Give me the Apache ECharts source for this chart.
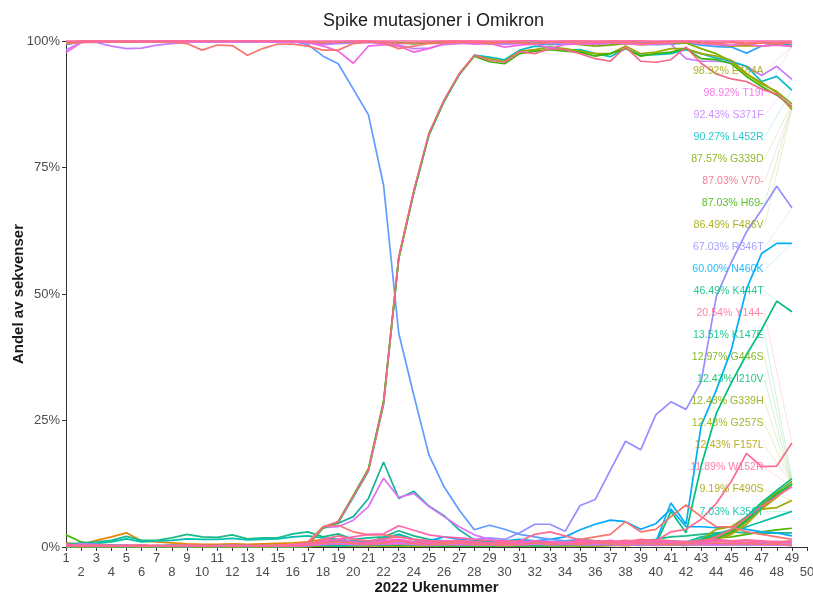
<!DOCTYPE html>
<html><head><meta charset="utf-8">
<script src="https://cdn.jsdelivr.net/npm/echarts@6/dist/echarts.min.js"></script>
<style>html,body{margin:0;padding:0;background:#fff}#c{width:813px;height:595px}</style>
</head><body><div id="c"></div>
<script>
// ---------- DATA ----------
const weeks = [1,2,3,4,5,6,7,8,9,10, 11,12,13,14,15,16,17,18,19,20, 21,22,23,24,25,26,27,28,29,30, 31,32,33,34,35,36,37,38,39,40, 41,42,43,44,45,46,47,48,49];
const yTicks = [0,25,50,75,100];

// near-100% lines
const topPink = [100,100,100,100,100,100,100,100,100,100, 100,100,100,100,100,100,100,100,100,100, 100,100,100,100,100,100,100,100,100,100, 100,100,100,100,100,100,100,100,100,100, 100,100,100,100,100,100,100,100,100];
const topRed = [99.8,100,100,100,100,100,100,100,100,100, 100,100,100,100,100,100,99.8,99.6,99.8,100, 100,99.8,99.5,99.6,99.8,100,100,100,99.8,99.9, 100,100,99.8,100,100,99.9,100,100,100,99.8, 100,100,99.8,99.7,99.8,99.6,99.8,99.7,99.8];
const redDip = [99.5,99.7,99.8,99.8,99.8,99.8,99.8,99.8,99.5,98.2, 99.2,99.1,97.2,98.5,99.4,99.4,99.0,98.2,98.2,99.5, 99.8,99.6,98.5,99.0,99.5,99.6,99.7,99.8,99.5,99.7, 99.6,99.5,99.7,99.8,99.6,99.8,99.7,99.8,99.5,99.6, 99.7,99.8,99.6,99.5,99.7,99.4,99.6,99.5,99.6];
const topBlue = [99.3,99.8,99.8,99.9,99.8,99.9,99.8,99.9,99.8,99.9, 99.8,99.9,99.8,99.9,99.8,99.9,99.7,99.5,99.6,99.8, 99.7,99.8,99.6,99.5,99.7,99.8,99.6,99.7,99.5,99.4, 99.6,99.5,99.3,99.5,99.6,99.4,99.5,99.6,99.5,99.3, 99.4,99.6,99.2,98.9,98.8,97.6,99.0,99.5,99.3];
const T19I = [97.7,99.7,99.8,99.8,99.9,99.8,99.9,99.8,99.9,99.8, 99.9,99.8,99.9,99.8,99.9,99.8,99.7,99.0,98.0,95.6, 99.0,99.3,99.0,97.8,98.5,99.5,99.6,99.4,99.5,98.8, 99.2,99.4,98.6,99.3,99.5,99.4,99.6,99.5,99.3,99.4, 99.6,99.8,99.5,99.3,99.2,99.4,99.0,99.2,98.92];
const E484A = [99.6,99.9,99.9,99.9,99.8,99.9,99.9,99.9,99.9,99.9, 99.9,99.9,99.9,99.9,99.9,99.9,99.8,99.7,99.8,99.8, 99.9,99.8,99.7,99.6,99.8,99.8,99.9,99.8,99.7,99.8, 99.8,99.7,99.8,99.8,99.7,99.8,99.7,99.8,99.7,99.8, 99.7,99.8,99.6,99.3,99.0,99.1,99.0,99.3,98.92];
const S371F = [98.2,99.7,99.7,99.0,98.5,98.6,99.2,99.5,99.7,99.8, 99.8,99.8,99.8,99.8,99.8,99.8,99.6,99.3,99.5,99.6, 99.7,99.5,99.2,98.5,98.6,99.3,99.5,99.6,99.5,99.4, 99.5,99.6,99.5,99.6,99.5,99.4,99.6,99.7,99.6,99.5, 99.4,96.5,96.0,96.0,95.8,95.0,93.2,95.0,92.43];
const G339D = [99.8,99.9,99.9,99.9,99.9,99.9,99.9,99.9,99.9,99.9, 99.9,99.9,99.9,99.9,99.9,99.9,99.8,99.7,99.7,99.8, 99.8,99.7,99.6,99.5,99.7,99.8,99.8,99.7,99.6,99.7, 99.7,99.6,99.5,99.6,99.3,99.0,99.2,99.5,99.3,99.4, 99.5,99.6,98.5,97.5,96.0,93.5,91.5,90.0,87.57];

// lines that take over around week 18-28
const V70del = [0.3,0.2,0.3,0.2,0.3,0.2,0.3,0.2,0.3,0.2, 0.3,0.2,0.3,0.2,0.3,0.4,0.5,4.0,5.0,10.0, 15.2,28.4,57.3,70.4,81.8,88.3,93.5,97.2,96.2,95.8, 97.9,97.5,98.5,98.3,97.5,96.5,96.0,98.8,96.0,95.8, 96.3,98.8,95.6,93.5,92.5,92.0,90.5,89.5,87.03];
const H69del = [0.2,0.3,0.2,0.3,0.2,0.3,0.2,0.3,0.2,0.3, 0.2,0.3,0.2,0.3,0.2,0.3,0.5,3.8,5.0,10.2, 15.5,28.8,57.0,70.2,81.5,88.2,93.4,97.0,95.9,95.5, 97.5,98.0,98.3,98.0,97.8,97.0,97.5,98.5,97.0,97.5, 97.8,98.5,96.5,96.3,95.5,93.0,91.0,89.3,87.03];
const F486V = [0.2,0.2,0.2,0.2,0.2,0.2,0.2,0.2,0.2,0.2, 0.2,0.2,0.2,0.2,0.2,0.3,0.4,3.9,5.0,10.1, 15.3,28.6,57.1,70.3,81.6,88.2,93.5,97.1,96.5,96.0, 98.0,98.3,98.8,98.5,98.0,97.5,97.5,99.0,97.5,97.8, 98.5,98.5,97.5,97.0,96.2,93.5,91.8,89.8,86.49];
const L452R = [0.1,0.2,0.1,0.2,0.1,0.2,0.1,0.2,0.1,0.2, 0.1,0.2,0.1,0.2,0.1,0.2,0.4,3.7,4.8,9.8, 15.0,28.2,57.0,70.0,81.4,88.0,93.3,97.2,96.8,96.3, 98.2,99.0,98.8,98.2,98.3,97.5,96.9,98.5,97.2,97.3, 97.5,98.3,97.5,96.6,96.0,95.0,92.0,93.0,90.27];
const Q493R = [99.5,99.9,99.9,99.9,99.9,99.9,99.9,99.9,99.9,99.9, 99.9,99.9,99.9,99.9,99.9,99.9,99.3,97.0,95.5,90.5, 85.4,71.5,42.3,30.0,18.2,11.9,7.3,3.4,4.3,3.5, 2.5,2.0,1.5,1.2,1.5,1.0,1.2,0.8,1.0,0.8, 0.9,0.7,0.8,0.6,0.7,0.5,0.6,0.5,0.5];

// rising late
const R346T = [0.2,0.3,0.2,0.3,0.2,0.3,0.2,0.3,0.2,0.3, 0.2,0.3,0.2,0.3,0.2,0.3,0.3,0.5,0.6,0.5, 0.6,0.8,1.0,0.8,1.0,1.2,1.0,1.5,1.8,1.5, 2.8,4.5,4.5,3.1,8.2,9.4,15.2,20.9,19.2,26.1, 28.7,27.2,32.7,49.5,56.3,62.3,66.6,71.3,67.03];
const N460K = [0.2,0.2,0.3,0.2,0.2,0.3,0.2,0.2,0.3,0.2, 0.2,0.3,0.2,0.2,0.3,0.2,0.3,0.5,0.4,0.5, 0.6,0.5,0.8,1.0,0.8,0.6,0.7,0.8,0.6,0.7, 0.8,0.6,0.7,0.8,0.9,1.0,0.8,1.0,0.8,1.0, 8.7,4.5,24.0,31.0,39.0,51.0,58.0,60.0,60.0];
const K444T = [0.1,0.2,0.1,0.2,0.1,0.2,0.1,0.2,0.1,0.2, 0.1,0.2,0.1,0.2,0.1,0.2,0.3,0.4,0.3,0.4, 0.5,0.4,0.5,0.4,0.3,0.4,0.3,0.4,0.3,0.4, 0.3,0.4,0.5,0.4,0.5,0.4,0.5,0.6,0.5,0.5, 7.0,2.8,16.0,26.4,32.5,38.0,43.0,48.6,46.49];
const Y144del = [0.2,0.3,0.2,0.3,0.2,0.3,0.2,0.3,0.2,0.3, 0.2,0.3,0.2,0.3,0.2,0.3,0.4,0.6,0.8,0.6, 0.8,1.0,1.2,1.0,0.8,0.7,0.6,0.7,0.6,0.7, 0.8,0.7,0.8,0.9,0.8,0.9,1.0,1.0,1.5,1.2, 3.0,3.5,5.5,8.6,13.0,18.5,15.9,16.0,20.54];
const K147E = [0.1,0.2,0.1,0.2,0.1,0.2,0.1,0.2,0.1,0.2, 0.1,0.2,0.1,0.2,0.1,0.2,0.3,0.4,0.5,0.4, 0.5,0.6,0.5,0.6,0.5,0.4,0.5,0.4,0.3,0.4, 0.3,0.4,0.3,0.4,0.5,0.4,0.5,0.6,0.5,0.6, 0.8,0.7,1.5,2.5,3.5,6.0,8.8,11.2,13.51];
const G446S = [0.0,0.1,0.0,0.1,0.0,0.1,0.0,0.1,0.0,0.1, 0.0,0.1,0.0,0.1,0.0,0.1,0.2,0.3,0.4,0.3, 0.4,0.5,0.4,0.3,0.4,0.3,0.4,0.3,0.2,0.3, 0.2,0.3,0.4,0.3,0.4,0.5,0.4,0.5,0.6,0.5, 0.7,0.8,1.2,2.0,3.2,5.6,8.4,10.8,12.97];
const I210V = [0.1,0.0,0.1,0.0,0.1,0.0,0.1,0.0,0.1,0.0, 0.1,0.0,0.1,0.0,0.1,0.0,0.2,0.3,0.2,0.3, 0.3,0.4,0.3,0.4,0.3,0.2,0.3,0.2,0.3,0.2, 0.3,0.2,0.3,0.4,0.3,0.4,0.5,0.4,0.5,0.4, 0.6,0.7,1.0,1.8,3.0,5.2,8.0,10.5,12.43];
const G339H = [0.0,0.0,0.1,0.0,0.0,0.1,0.0,0.0,0.1,0.0, 0.0,0.1,0.0,0.0,0.1,0.0,0.1,0.2,0.3,0.2, 0.3,0.2,0.3,0.2,0.3,0.2,0.3,0.2,0.3,0.2, 0.2,0.3,0.2,0.3,0.2,0.3,0.4,0.3,0.4,0.5, 0.5,0.8,1.3,2.2,3.3,5.5,8.2,10.3,12.43];
const G257S = [0.0,0.1,0.0,0.0,0.1,0.0,0.0,0.1,0.0,0.0, 0.1,0.0,0.0,0.1,0.0,0.0,0.1,0.2,0.2,0.3, 0.2,0.3,0.2,0.3,0.2,0.3,0.2,0.3,0.2,0.3, 0.3,0.2,0.3,0.2,0.3,0.2,0.3,0.4,0.3,0.4, 0.5,0.6,1.0,1.5,2.8,5.0,7.8,10.1,12.43];
const F157L = [0.1,0.0,0.0,0.1,0.0,0.0,0.1,0.0,0.0,0.1, 0.0,0.0,0.1,0.0,0.0,0.1,0.1,0.2,0.3,0.2, 0.3,0.2,0.2,0.3,0.2,0.2,0.3,0.2,0.2,0.3, 0.2,0.3,0.2,0.3,0.3,0.2,0.3,0.3,0.4,0.3, 0.4,0.5,0.8,1.5,2.5,4.5,7.5,9.8,12.43];
const W152R = [0.2,0.1,0.2,0.1,0.2,0.1,0.2,0.1,0.2,0.1, 0.2,0.1,0.2,0.1,0.2,0.1,0.3,0.5,0.6,0.5, 0.6,0.5,0.6,0.5,0.4,0.5,0.4,0.5,0.4,0.5, 0.4,0.5,0.6,0.5,0.6,0.5,0.6,0.7,0.6,0.7, 0.8,0.9,1.0,2.0,3.5,5.8,8.0,10.0,11.89];
const F490S = [0.0,0.1,0.0,0.1,0.0,0.1,0.0,0.1,0.0,0.1, 0.0,0.1,0.0,0.1,0.0,0.1,0.2,0.3,0.2,0.3, 0.4,0.3,0.4,0.3,0.2,0.3,0.2,0.3,0.2,0.3, 0.3,0.4,0.3,0.4,0.3,0.4,0.5,0.4,0.5,0.6, 0.7,0.8,1.5,3.5,4.0,6.0,7.5,7.8,9.19];
const K356T = [0.3,0.5,0.7,1.0,1.6,1.0,1.2,1.3,1.6,1.5, 1.5,1.7,1.4,1.5,1.6,2.0,2.2,1.8,1.5,1.2, 1.0,1.8,2.5,1.5,1.0,0.8,0.7,0.6,0.5,0.7, 0.6,0.8,0.5,0.6,0.8,0.7,0.9,0.6,0.8,1.0, 1.2,1.0,2.0,2.5,3.0,4.0,5.0,6.0,7.03];

// other low lines
const lowGreen = [2.4,1.0,0.5,0.4,0.3,0.3,0.2,0.2,0.3,0.2, 0.2,0.3,0.2,0.3,0.3,0.4,0.5,0.8,1.2,1.0, 0.8,0.6,1.0,0.8,0.6,0.5,0.6,0.5,0.4,0.5, 0.6,0.5,0.4,0.5,0.6,0.5,0.7,0.5,0.6,0.8, 0.6,0.7,1.5,1.8,2.0,2.5,3.0,3.4,3.7];
const lowOrange = [0.8,0.5,1.3,2.0,2.8,1.2,1.0,0.8,0.6,0.5, 0.5,0.6,0.5,0.6,0.7,0.8,1.0,1.5,1.3,1.0, 0.8,0.6,0.7,0.5,0.4,0.5,0.4,0.3,0.4,0.3, 0.4,0.5,0.4,0.3,0.4,0.5,0.4,0.3,0.4,0.5, 0.4,0.3,0.5,0.4,0.5,0.6,0.5,0.4,0.5];
const lowTeal = [0.5,0.8,1.0,1.3,2.1,1.3,1.3,1.8,2.5,2.0, 1.9,2.4,1.6,1.8,1.8,2.6,3.0,2.0,2.6,1.5, 1.8,2.0,3.2,2.2,1.5,1.2,1.0,1.2,0.8,1.0, 1.2,1.0,0.8,1.0,1.5,1.2,1.0,0.8,1.2,1.5, 2.0,2.2,2.5,2.8,3.0,2.8,2.7,2.8,2.8];
const spikeTeal = [0.2,0.3,0.3,0.2,0.3,0.3,0.2,0.3,0.3,0.2, 0.3,0.3,0.2,0.3,0.3,0.4,0.5,4.0,4.7,6.0, 9.6,16.8,9.6,11.0,8.1,6.2,3.4,1.4,1.0,0.8, 0.7,0.6,0.5,0.6,0.5,0.6,0.5,0.4,0.5,0.6, 0.5,0.4,0.5,0.4,0.5,0.4,0.5,0.4,0.3];
const spikeMagenta = [0.3,0.6,0.5,0.3,0.4,0.3,0.3,0.2,0.3,0.3, 0.2,0.3,0.3,0.2,0.3,0.3,0.5,3.8,4.0,5.3, 8.0,13.6,9.8,10.6,8.0,6.0,4.0,2.4,1.5,1.0, 0.8,0.6,0.5,0.6,0.5,0.4,0.5,0.4,0.5,0.4, 0.5,0.4,0.5,0.4,0.5,0.4,0.5,0.4,0.3];
const pinkBump = [0.2,0.2,0.3,0.2,0.2,0.3,0.2,0.2,0.3,0.2, 0.2,0.3,0.2,0.2,0.3,0.3,0.3,1.0,1.5,2.0, 2.5,2.6,4.2,3.3,2.4,2.0,1.8,1.5,1.3,1.2, 1.0,1.1,1.0,0.9,1.0,1.1,1.0,0.9,1.0,1.1, 1.0,0.9,1.0,1.2,1.0,0.9,1.0,0.8,0.9];
const redHump = [0.3,0.3,0.4,0.3,0.3,0.4,0.3,0.3,0.4,0.3, 0.3,0.4,0.3,0.3,0.4,0.5,1.0,4.0,4.3,3.0, 2.4,2.4,2.0,1.5,1.2,1.0,0.9,0.8,0.7,0.8, 0.7,0.6,0.7,0.6,1.5,2.0,2.5,5.0,3.0,3.5, 6.0,8.3,6.0,4.0,4.0,3.0,2.5,2.0,1.5];
const cyanLow = [0.3,0.2,0.3,0.4,0.3,0.2,0.3,0.4,0.3,0.2, 0.3,0.4,0.3,0.2,0.3,0.4,0.5,0.8,1.0,1.2, 1.0,1.5,2.5,1.5,1.2,2.0,1.5,1.2,1.0,1.2, 1.5,1.2,1.5,2.0,3.4,4.5,5.3,5.0,3.5,4.6, 7.5,4.0,4.0,3.8,4.0,3.5,3.0,2.8,2.2];
const pinkLow1 = [0.5,0.3,0.2,0.3,0.2,0.3,0.2,0.3,0.2,0.3, 0.2,0.3,0.2,0.3,0.2,0.4,0.6,1.2,1.5,1.0, 0.8,1.2,1.5,1.0,0.8,1.2,1.0,0.9,0.7,1.0, 0.8,1.2,1.0,0.8,1.1,0.9,1.3,0.8,1.0,1.2, 0.9,1.1,0.8,1.2,1.0,1.3,0.9,1.1,0.8];
const pinkLow2 = [0.2,0.1,0.2,0.1,0.2,0.1,0.2,0.1,0.2,0.1, 0.2,0.1,0.2,0.1,0.2,0.3,0.5,0.8,1.0,0.7, 0.5,0.8,1.2,0.7,0.5,0.6,0.8,0.5,0.6,0.4, 0.6,0.8,0.5,0.7,0.5,0.8,0.6,0.5,0.7,0.6, 0.5,0.7,0.6,0.8,0.6,0.7,0.5,0.6,0.4];
const pinkLow3 = [0.1,0.2,0.1,0.2,0.1,0.2,0.1,0.2,0.1,0.2, 0.1,0.2,0.1,0.2,0.1,0.2,0.3,0.6,0.8,0.5, 0.4,0.6,0.8,0.5,0.4,0.5,0.6,0.4,0.5,0.3, 0.5,0.6,0.4,0.5,0.4,0.6,0.5,0.4,0.5,0.4, 0.5,0.6,0.5,0.4,0.5,0.6,0.4,0.5,0.3];
const pinkLow4 = [0.3,0.2,0.3,0.2,0.3,0.2,0.3,0.2,0.3,0.2, 0.3,0.2,0.3,0.2,0.3,0.2,0.4,1.5,2.2,1.5, 1.2,1.6,2.0,1.5,1.2,1.0,1.3,1.0,0.8,1.0, 1.2,2.5,3.0,2.2,1.4,1.2,1.0,1.3,1.1,1.4, 1.2,1.0,1.3,1.5,1.2,1.4,1.2,1.0,1.2];

// series list (draw order) : [name, values, colour]
const lines = [
  ['lowOrange', lowOrange, '#E58700'],
  ['lowGreen', lowGreen, '#4DB600'],
  ['lowTeal', lowTeal, '#19B98A'],
  ['cyanLow', cyanLow, '#00A9FF'],
  ['K356T', K356T, '#00C1A7'],
  ['F490S', F490S, '#A3A500'],
  ['F157L', F157L, '#B3A000'],
  ['G257S', G257S, '#94AA00'],
  ['G339H', G339H, '#86AC00'],
  ['I210V', I210V, '#00BE6C'],
  ['G446S', G446S, '#6BB100'],
  ['K147E', K147E, '#00C08B'],
  ['K444T', K444T, '#00BF7D'],
  ['N460K', N460K, '#00B0F6'],
  ['R346T', R346T, '#9590FF'],
  ['spikeTeal', spikeTeal, '#14B49A'],
  ['spikeMagenta', spikeMagenta, '#DB72FB'],
  ['Q493R', Q493R, '#619CFF'],
  ['topBlue', topBlue, '#35A2FF'],
  ['E484A', E484A, '#A3A500'],
  ['G339D', G339D, '#7CAE00'],
  ['S371F', S371F, '#C77CFF'],
  ['L452R', L452R, '#00BFC4'],
  ['F486V', F486V, '#9DA700'],
  ['H69-', H69del, '#39B600'],
  ['V70-', V70del, '#F2698A'],
  ['T19I', T19I, '#F564E3'],
  ['redDip', redDip, '#F8766D'],
  ['redHump', redHump, '#F8766D'],
  ['pinkBump', pinkBump, '#FF65AE'],
  ['W152R', W152R, '#FF689F'],
  ['Y144-', Y144del, '#FF6C91'],
  ['pinkLow3', pinkLow3, '#E76BF3'],
  ['pinkLow2', pinkLow2, '#F8766D'],
  ['pinkLow1', pinkLow1, '#FF61C9'],
  ['pinkLow4', pinkLow4, '#FF6C91'],
  ['topRed', topRed, '#FC717F'],
  ['topPink', topPink, '#FF67A4']
];

// labelled mutations, top to bottom
const labelNames = ['E484A','T19I','S371F','L452R','G339D','V70-','H69-','F486V','R346T','N460K','K444T','Y144-','K147E','G446S','I210V','G339H','G257S','F157L','W152R','F490S','K356T'];

// ---------- CHART ----------
const chart = echarts.init(document.getElementById('c'), null, {renderer: 'canvas'});
const FONT = 'Liberation Sans, Arial, sans-serif';
const byName = {};
lines.forEach(l => byName[l[0]] = l);

const lineSeries = lines.map(l => ({
  type: 'line', name: l[0], symbol: 'none', clip: false, silent: true,
  data: weeks.map((w, i) => [w, l[1][i]]),
  lineStyle: {color: l[2], width: 1.7}, itemStyle: {color: l[2]},
  z: 2
}));

const labelData = labelNames.map((n, i) => {
  const vals = byName[n][1];
  return [i, vals[vals.length - 1]];
});
const LAST_WEEK = weeks[weeks.length - 1];
// label layout (repel-like evenly spread column)
const LABEL_X = 47.13, LABEL_TOP = 94.0, LABEL_STEP = 4.35;

const labelSeries = {
  type: 'custom', silent: true, z: 10,
  data: labelData,
  renderItem: function (params, api) {
    const i = api.value(0), v = api.value(1);
    const name = labelNames[i];
    const col = byName[name][2];
    const end = api.coord([LAST_WEEK, v]);
    const pos = api.coord([LABEL_X, LABEL_TOP - i * LABEL_STEP]);
    return {
      type: 'group',
      children: [
        {type: 'line', shape: {x1: pos[0] + 1, y1: pos[1], x2: end[0], y2: end[1]},
         style: {stroke: col, lineWidth: 0.6, opacity: 0.35}},
        {type: 'text', x: pos[0], y: pos[1],
         style: {text: v.toFixed(2) + '% ' + name, fill: col, opacity: 0.85,
                 font: '10.6px ' + FONT, textAlign: 'right', textVerticalAlign: 'middle'}}
      ]
    };
  }
};

chart.setOption({
  animation: false,
  backgroundColor: '#fff',
  title: {text: 'Spike mutasjoner i Omikron', left: 318, top: 7,
          textStyle: {fontFamily: FONT, fontSize: 18, fontWeight: 'normal', color: '#1a1a1a'}},
  grid: {left: 66, right: 6, top: 41, bottom: 48, containLabel: false, outerBoundsMode: 'none'},
  xAxis: {
    type: 'value', min: 1, max: 50, interval: 1,
    name: '2022 Ukenummer', nameLocation: 'middle', nameGap: 33, nameMoveOverlap: false,
    nameTextStyle: {fontFamily: FONT, fontSize: 15, fontWeight: 'bold', color: '#1a1a1a', lineHeight: 16},
    axisLine: {show: true, lineStyle: {color: '#333', width: 1}},
    axisTick: {show: true, length: 4, lineStyle: {color: '#333'}},
    axisLabel: {fontFamily: FONT, fontSize: 13, color: '#4d4d4d', margin: 4, lineHeight: 14.5,
                formatter: v => (v % 2 === 0 ? '\n' + v : String(v))},
    splitLine: {show: false}
  },
  yAxis: {
    type: 'value', min: yTicks[0], max: yTicks[yTicks.length - 1], interval: 25,
    name: 'Andel av sekvenser', nameLocation: 'middle', nameGap: 40, nameMoveOverlap: false,
    nameTextStyle: {fontFamily: FONT, fontSize: 15, fontWeight: 'bold', color: '#1a1a1a'},
    axisLine: {show: true, lineStyle: {color: '#333', width: 1}},
    axisTick: {show: true, length: 4, lineStyle: {color: '#333'}},
    axisLabel: {fontFamily: FONT, fontSize: 13, color: '#4d4d4d', margin: 6, formatter: '{value}%'},
    splitLine: {show: false}
  },
  series: lineSeries.concat([labelSeries])
});
</script>
</body></html>
